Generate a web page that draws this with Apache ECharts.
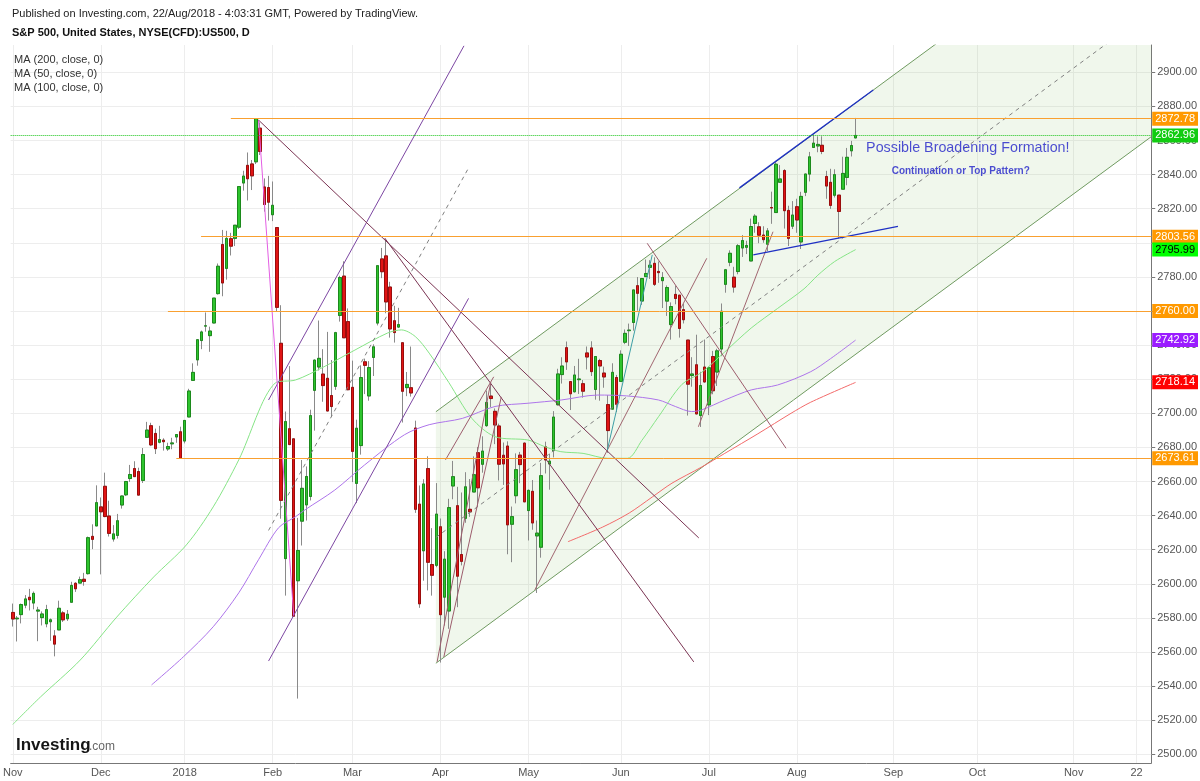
<!DOCTYPE html>
<html><head><meta charset="utf-8">
<script src="https://cdn.jsdelivr.net/npm/echarts@6/dist/echarts.min.js"></script>
<style>html,body{margin:0;padding:0;background:#fff}#c{width:1200px;height:781px}</style>
</head><body><div id="c"></div>
<script>
// ---------- DATA ----------
// daily bars: [date, open, high, low, close]
const ohlc = [
['2017-11-01',2583.21,2588.40,2574.92,2579.36],['2017-11-02',2579.46,2581.11,2566.17,2579.85],['2017-11-03',2581.93,2588.42,2576.77,2587.84],
['2017-11-06',2587.47,2593.38,2585.66,2591.13],['2017-11-07',2592.11,2597.02,2584.35,2590.64],['2017-11-08',2588.71,2595.47,2585.02,2594.38],
['2017-11-09',2584.00,2586.50,2566.33,2584.62],['2017-11-10',2580.18,2583.81,2575.57,2582.30],['2017-11-13',2576.53,2587.66,2574.48,2584.84],
['2017-11-14',2577.75,2579.66,2566.56,2578.87],['2017-11-15',2569.45,2572.84,2557.45,2564.62],['2017-11-16',2572.95,2590.09,2572.95,2585.64],
['2017-11-17',2582.94,2583.96,2577.62,2578.85],['2017-11-20',2579.49,2584.64,2578.24,2582.14],['2017-11-21',2589.17,2601.19,2589.17,2599.03],
['2017-11-22',2600.31,2600.94,2595.23,2597.08],['2017-11-24',2600.42,2604.21,2600.42,2602.42],['2017-11-27',2602.66,2606.41,2598.87,2601.42],
['2017-11-28',2605.95,2627.69,2605.44,2627.04],['2017-11-29',2627.82,2634.89,2620.32,2626.07],['2017-11-30',2633.93,2657.74,2633.93,2647.58],
['2017-12-01',2645.10,2650.62,2605.52,2642.22],['2017-12-04',2657.19,2665.19,2639.03,2639.44],['2017-12-05',2639.78,2648.72,2627.73,2629.57],
['2017-12-06',2626.24,2634.41,2624.75,2629.27],['2017-12-07',2628.38,2640.99,2626.53,2636.98],['2017-12-08',2646.21,2651.65,2644.10,2651.50],
['2017-12-11',2652.19,2660.33,2651.47,2659.99],['2017-12-12',2661.73,2669.72,2659.78,2664.11],['2017-12-13',2667.59,2671.88,2662.85,2662.85],
['2017-12-14',2665.87,2668.09,2652.01,2652.01],['2017-12-15',2660.63,2679.63,2659.14,2675.81],['2017-12-18',2685.92,2694.97,2685.92,2690.16],
['2017-12-19',2692.71,2694.44,2680.74,2681.47],['2017-12-20',2688.18,2691.01,2676.11,2679.25],['2017-12-21',2683.02,2692.64,2682.40,2684.57],
['2017-12-22',2684.22,2685.35,2678.13,2683.34],['2017-12-26',2679.09,2682.74,2677.96,2680.50],['2017-12-27',2682.10,2685.64,2678.91,2682.62],
['2017-12-28',2686.10,2687.66,2682.69,2687.54],['2017-12-29',2689.15,2692.12,2673.61,2673.61],
['2018-01-02',2683.73,2695.89,2682.36,2695.81],['2018-01-03',2697.85,2714.37,2697.77,2713.06],['2018-01-04',2719.31,2729.29,2719.07,2723.99],
['2018-01-05',2731.33,2743.45,2727.92,2743.15],['2018-01-08',2742.67,2748.51,2737.60,2747.71],['2018-01-09',2751.15,2759.14,2747.86,2751.29],
['2018-01-10',2745.55,2750.80,2736.06,2748.23],['2018-01-11',2752.97,2767.56,2752.78,2767.56],['2018-01-12',2770.18,2787.85,2769.64,2786.24],
['2018-01-16',2798.96,2807.54,2768.64,2776.42],['2018-01-17',2784.99,2807.04,2778.38,2802.56],['2018-01-18',2802.40,2805.83,2792.56,2798.03],
['2018-01-19',2802.60,2810.33,2798.08,2810.30],['2018-01-22',2809.16,2833.03,2808.12,2832.97],['2018-01-23',2835.05,2842.24,2830.59,2839.13],
['2018-01-24',2845.42,2852.97,2824.81,2837.54],['2018-01-25',2846.24,2848.56,2830.94,2839.25],['2018-01-26',2847.48,2872.87,2846.18,2872.87],
['2018-01-29',2867.23,2870.62,2851.48,2853.53],['2018-01-30',2832.74,2837.75,2818.27,2822.43],['2018-01-31',2832.41,2839.26,2813.04,2823.81],
['2018-02-01',2816.45,2835.96,2812.70,2821.98],['2018-02-02',2808.92,2808.92,2759.97,2762.13],['2018-02-05',2741.06,2763.39,2638.17,2648.94],
['2018-02-06',2614.78,2701.04,2593.07,2695.14],['2018-02-07',2690.95,2727.67,2681.33,2681.66],['2018-02-08',2685.01,2685.27,2580.56,2581.00],
['2018-02-09',2601.78,2638.67,2532.69,2619.55],['2018-02-12',2636.75,2672.61,2622.45,2656.00],['2018-02-13',2646.27,2668.84,2637.08,2662.94],
['2018-02-14',2651.21,2702.10,2648.87,2698.63],['2018-02-15',2713.46,2731.51,2689.82,2731.20],['2018-02-16',2727.14,2754.42,2725.11,2732.22],
['2018-02-20',2722.99,2737.60,2706.76,2716.26],['2018-02-21',2720.53,2747.75,2701.29,2701.33],['2018-02-22',2710.42,2731.26,2697.77,2703.96],
['2018-02-23',2715.80,2747.76,2713.74,2747.30],['2018-02-26',2757.37,2780.64,2753.78,2779.60],['2018-02-27',2780.45,2789.15,2744.22,2744.28],
['2018-02-28',2753.78,2761.52,2713.54,2713.83],
['2018-03-01',2715.22,2730.89,2659.65,2677.67],['2018-03-02',2658.89,2696.25,2647.32,2691.25],['2018-03-05',2681.06,2728.09,2675.75,2720.94],
['2018-03-06',2730.18,2732.08,2711.26,2728.12],['2018-03-07',2710.18,2730.60,2707.38,2726.80],['2018-03-08',2732.75,2740.45,2721.88,2738.97],
['2018-03-09',2752.91,2786.57,2751.54,2786.57],['2018-03-12',2790.54,2796.98,2779.26,2783.02],['2018-03-13',2792.31,2801.90,2758.68,2765.31],
['2018-03-14',2774.06,2777.11,2744.38,2749.48],['2018-03-15',2754.27,2763.03,2741.47,2747.33],['2018-03-16',2750.57,2761.85,2749.97,2752.01],
['2018-03-19',2741.38,2741.38,2694.59,2712.92],['2018-03-20',2715.05,2724.22,2710.05,2716.94],['2018-03-21',2714.99,2739.14,2709.79,2711.93],
['2018-03-22',2691.36,2695.68,2641.59,2643.69],['2018-03-23',2646.71,2657.67,2585.89,2588.26],['2018-03-26',2619.35,2661.36,2601.81,2658.55],
['2018-03-27',2667.57,2674.78,2596.12,2612.62],['2018-03-28',2611.30,2632.65,2593.06,2605.00],['2018-03-29',2610.84,2659.07,2609.72,2640.87],
['2018-04-02',2633.45,2638.30,2553.80,2581.88],['2018-04-03',2592.17,2619.14,2575.49,2614.45],['2018-04-04',2584.04,2649.86,2573.61,2644.69],
['2018-04-05',2657.36,2672.08,2649.58,2662.84],['2018-04-06',2645.82,2656.88,2586.27,2604.47],['2018-04-09',2617.18,2653.55,2610.79,2613.16],
['2018-04-10',2638.41,2665.45,2635.78,2656.87],['2018-04-11',2643.69,2661.43,2639.25,2642.19],['2018-04-12',2653.83,2674.72,2653.83,2663.99],
['2018-04-13',2676.90,2680.26,2645.05,2656.30],['2018-04-16',2670.10,2686.49,2665.16,2677.84],['2018-04-17',2692.74,2713.34,2692.05,2706.39],
['2018-04-18',2710.11,2717.49,2703.63,2708.64],['2018-04-19',2701.16,2702.84,2681.90,2693.13],['2018-04-20',2692.56,2693.94,2660.61,2670.14],
['2018-04-23',2675.40,2682.86,2657.99,2670.29],['2018-04-24',2680.80,2683.55,2617.32,2634.56],['2018-04-25',2634.92,2645.30,2612.67,2639.40],
['2018-04-26',2651.65,2676.48,2647.16,2666.94],['2018-04-27',2675.47,2677.35,2659.01,2669.91],['2018-04-30',2682.51,2682.87,2648.04,2648.05],
['2018-05-01',2642.96,2655.27,2625.41,2654.80],['2018-05-02',2654.24,2660.87,2631.70,2635.67],['2018-05-03',2628.08,2637.14,2594.62,2629.73],
['2018-05-04',2621.45,2670.93,2615.32,2663.42],['2018-05-07',2680.34,2683.35,2664.70,2672.63],['2018-05-08',2670.26,2676.34,2655.20,2671.92],
['2018-05-09',2678.12,2701.27,2674.14,2697.79],['2018-05-10',2705.02,2726.11,2704.54,2723.07],['2018-05-11',2722.70,2732.86,2717.45,2727.72],
['2018-05-14',2738.47,2742.10,2725.47,2730.13],['2018-05-15',2718.59,2718.59,2701.91,2711.45],['2018-05-16',2712.62,2727.76,2712.17,2722.46],
['2018-05-17',2719.71,2731.96,2711.36,2720.13],['2018-05-18',2717.35,2719.50,2709.18,2712.97],['2018-05-21',2735.39,2739.19,2725.70,2733.01],
['2018-05-22',2738.34,2742.24,2721.88,2724.44],['2018-05-23',2713.98,2733.33,2707.98,2733.29],['2018-05-24',2730.94,2731.97,2707.38,2727.76],
['2018-05-25',2723.60,2727.36,2714.99,2721.33],['2018-05-29',2705.11,2710.67,2676.81,2689.86],['2018-05-30',2702.43,2729.34,2702.43,2724.01],
['2018-05-31',2720.98,2722.50,2700.68,2705.27],
['2018-06-01',2718.70,2736.93,2718.70,2734.62],['2018-06-04',2741.67,2749.16,2740.54,2746.87],['2018-06-05',2748.46,2752.61,2739.51,2748.80],
['2018-06-06',2753.25,2772.39,2748.46,2772.35],['2018-06-07',2774.84,2779.90,2760.16,2770.37],['2018-06-08',2765.84,2779.39,2763.59,2779.03],
['2018-06-11',2780.18,2790.21,2780.17,2782.00],['2018-06-12',2785.60,2789.80,2778.78,2786.85],['2018-06-13',2787.94,2791.47,2774.65,2775.63],
['2018-06-14',2783.21,2789.06,2776.52,2782.49],['2018-06-15',2777.78,2782.81,2761.73,2779.66],['2018-06-18',2765.79,2774.99,2757.12,2773.75],
['2018-06-19',2752.01,2765.05,2743.19,2762.59],['2018-06-20',2769.73,2774.86,2763.91,2767.32],['2018-06-21',2769.28,2769.28,2744.39,2749.76],
['2018-06-22',2760.79,2764.17,2752.68,2754.88],['2018-06-25',2742.94,2742.94,2698.67,2717.07],['2018-06-26',2722.12,2732.91,2715.60,2723.06],
['2018-06-27',2728.45,2746.09,2699.38,2699.63],['2018-06-28',2698.69,2724.34,2691.99,2716.31],['2018-06-29',2727.13,2743.26,2718.03,2718.37],
['2018-07-02',2704.95,2727.26,2698.95,2726.71],['2018-07-03',2733.27,2736.58,2711.16,2713.22],['2018-07-05',2724.19,2737.83,2716.02,2736.61],
['2018-07-06',2737.68,2764.41,2733.52,2759.82],['2018-07-09',2775.62,2784.65,2770.73,2784.17],['2018-07-10',2788.56,2795.58,2786.24,2793.84],
['2018-07-11',2779.82,2785.91,2770.77,2774.02],['2018-07-12',2783.14,2799.22,2781.53,2798.29],['2018-07-13',2796.93,2804.53,2791.69,2801.31],
['2018-07-16',2797.36,2801.19,2793.39,2798.43],['2018-07-17',2789.34,2814.19,2789.24,2809.55],['2018-07-18',2811.35,2816.76,2805.89,2815.62],
['2018-07-19',2809.37,2812.05,2799.77,2804.49],['2018-07-20',2804.55,2809.70,2800.01,2801.83],['2018-07-23',2799.17,2808.61,2795.14,2806.98],
['2018-07-24',2820.68,2829.99,2811.12,2820.40],['2018-07-25',2817.73,2848.03,2817.73,2846.07],['2018-07-26',2835.49,2845.57,2835.26,2837.44],
['2018-07-27',2842.35,2843.17,2808.34,2818.82],['2018-07-30',2819.00,2821.74,2798.11,2802.60],['2018-07-31',2809.73,2824.46,2808.06,2816.29],
['2018-08-01',2821.17,2825.83,2805.85,2813.36],['2018-08-02',2800.48,2829.91,2796.34,2827.22],['2018-08-03',2829.62,2840.38,2827.37,2840.35],
['2018-08-06',2840.29,2853.29,2835.98,2850.40],['2018-08-07',2855.92,2863.43,2855.92,2858.45],['2018-08-08',2856.79,2862.44,2853.09,2857.70],
['2018-08-09',2857.19,2862.48,2851.98,2853.58],['2018-08-10',2838.90,2842.20,2825.81,2833.28],['2018-08-13',2835.46,2843.40,2819.88,2821.93],
['2018-08-14',2827.88,2843.11,2826.58,2839.96],['2018-08-15',2827.95,2827.95,2802.49,2818.37],['2018-08-16',2831.44,2850.49,2831.44,2840.69],
['2018-08-17',2838.32,2855.63,2833.73,2850.13],['2018-08-20',2853.93,2859.76,2850.62,2857.05],['2018-08-21',2861.51,2873.23,2861.32,2862.96]
];

// moving averages: [bar index, value]
const ma50 = [[0,2517.5],[6.6,2533.6],[16.1,2555.3],[24.8,2580.5],[33.6,2604],[41.4,2622.8],[47.8,2645.1],[53.9,2672.7],[62.6,2717.8],
 [67.4,2719.5],[74,2727],[81.6,2737.1],[89.4,2747.1],[92.7,2748.9],[96,2745],[99.3,2735.3],[104,2718],[109.5,2697],[115,2686.3],
 [122.9,2684.3],[126.9,2680.4],[130.7,2677.5],[136,2676.5],[141.8,2673.6],[146.6,2673.6],[150,2684],[154,2698],[159.6,2717],
 [164.3,2724],[169.8,2736],[176.1,2750],[182.4,2761.5],[188.7,2773],[192,2781],[196,2789],[201,2795.99]];
const ma100 = [[33.1,2540.7],[40.7,2557.2],[47.8,2574.8],[53.9,2594.7],[58.6,2614.1],[63.4,2632.9],[67.4,2639.3],[69.7,2643.4],
 [76.8,2655],[83.9,2669.7],[93.4,2687.4],[99.3,2693.3],[107.2,2697],[115,2704],[122.9,2705.9],[130.8,2707.8],[139.5,2710.7],
 [146.4,2710.2],[154,2707.8],[158,2704],[161.9,2701],[164.3,2702],[169.8,2707.8],[176.1,2713.7],[182.4,2716.6],[190.3,2724.4],
 [195,2732],[201,2742.92]];
const ma200 = [[132.4,2624.7],[140.7,2633.3],[147,2641.5],[152.5,2650.9],[157.2,2659],[164.3,2668.5],[169.8,2676.5],[177.7,2688],
 [185.6,2700],[190.3,2706.5],[201,2718.14]];

// x-axis tick labels
const tickDates = ['2017-11-01','2017-12-01','2018-01-02','2018-02-01','2018-03-01','2018-04-02','2018-05-01','2018-06-01',
 '2018-07-02','2018-08-01','2018-09-03','2018-10-01','2018-11-01','2018-11-22'];
const tickTexts = ['Nov','Dec','2018','Feb','Mar','Apr','May','Jun','Jul','Aug','Sep','Oct','Nov','22'];
// y-axis tick labels
const yTicks = [2500,2520,2540,2560,2580,2600,2620,2640,2660,2680,2700,2720,2740,2760,2780,2800,2820,2840,2860,2880,2900];

// horizontal price levels and the bar index where each starts
const levelValues = [2872.78, 2862.96, 2803.56, 2760.00, 2673.61];
const levelStarts = [52.0, -0.5, 44.9, 37.0, 39.0];
// last values of MA(50), MA(100), MA(200)
const maTagValues = [2795.99, 2742.92, 2718.14];

// drawn trend lines: [bar index, price] end points
const lnPink      = [[58.6,2872.0],[67.0,2581.5]];
const lnMaroonA   = [[58.6,2872.0],[163.6,2626.9]];
const lnMaroonB   = [[88.7,2802.8],[162.4,2554.2]];
const lnForkUp    = [[61.0,2707.8],[107.6,2915.5]];
const lnForkMid   = [[61.0,2631.3],[108.7,2843.9]];
const lnForkLow   = [[61.0,2554.7],[108.7,2767.4]];
const chLower     = [[100.9,2553.4],[271.5,2862.2]];
const chUpper     = [[100.9,2700.9],[271.5,3009.5]];
const chMid       = [[100.9,2627.2],[271.5,2936.0]];
const lnBlueUp    = [[173.3,2832.2],[205.2,2889.6]];
const lnBlueLow   = [[176.6,2792.9],[211.1,2809.6]];
const lnRose1     = [[101.2,2554.2],[114.0,2718.4]];
const lnRose2     = [[102.8,2557.1],[116.5,2709.6]];
const lnRose3     = [[103.2,2672.7],[114.7,2721.4]];
const lnRose4     = [[124.5,2596.4],[165.5,2790.9]];
const lnRose5     = [[151.3,2799.7],[184.4,2679.5]];
const lnRose6     = [[163.5,2692.1],[181.3,2806.5]];
const lnTeal      = [[141.8,2678.5],[152.5,2792.9]];

// annotation texts [bar index, price]
const noteTexts = ['Possible Broadening Formation!', 'Continuation or Top Pattern?'];
const notePos = [[203.5,2855.4],[209.6,2841.8]];

// ---------- BUILD ----------
const cats = ohlc.map(r => r[0]);
(function(){ let d = new Date(Date.UTC(2018,7,22));
  while (cats.length < 272) { const wd = d.getUTCDay(); if (wd > 0 && wd < 6) cats.push(d.toISOString().slice(0,10)); d.setUTCDate(d.getUTCDate()+1); } })();
const N = cats.length;
const tickMap = {}; tickDates.forEach((t,k) => tickMap[t] = tickTexts[k]);
const tickIdx = tickDates.map(t => cats.indexOf(t));
const isTick = (i, v) => tickMap[v] !== undefined;

const wickData = ohlc.map(r => [r[1], r[4], r[3], r[2]]);
const bodyData = ohlc.map(r => [r[1], r[4], Math.min(r[1],r[4]), Math.max(r[1],r[4])]);

const FONT = '"Liberation Sans", Arial, sans-serif';
const chart = echarts.init(document.getElementById('c'), null, {renderer: 'canvas'});

function seg(data, color, opts) {
  opts = opts || {};
  return { type: 'line', xAxisIndex: 1, yAxisIndex: 0, data: data, symbol: 'none', silent: true, z: opts.z || 5,
    clip: true, smooth: opts.smooth || false,
    lineStyle: { color: color, width: opts.width || 1, type: opts.type || 'solid' } };
}

// clip a polygon to a rectangle (Sutherland-Hodgman)
function clipPoly(pts, r) {
  const edges = [
    p => p[0] >= r.x, p => p[0] <= r.x + r.width, p => p[1] >= r.y, p => p[1] <= r.y + r.height ];
  const cross = [
    (a,b) => { const t = (r.x - a[0]) / (b[0] - a[0]); return [r.x, a[1] + t*(b[1]-a[1])]; },
    (a,b) => { const X = r.x + r.width; const t = (X - a[0]) / (b[0] - a[0]); return [X, a[1] + t*(b[1]-a[1])]; },
    (a,b) => { const t = (r.y - a[1]) / (b[1] - a[1]); return [a[0] + t*(b[0]-a[0]), r.y]; },
    (a,b) => { const Y = r.y + r.height; const t = (Y - a[1]) / (b[1] - a[1]); return [a[0] + t*(b[0]-a[0]), Y]; } ];
  let out = pts;
  for (let e = 0; e < 4; e++) {
    const inp = out; out = [];
    for (let k = 0; k < inp.length; k++) {
      const cur = inp[k], prev = inp[(k + inp.length - 1) % inp.length];
      const ci = edges[e](cur), pi = edges[e](prev);
      if (ci) { if (!pi) out.push(cross[e](prev, cur)); out.push(cur); }
      else if (pi) out.push(cross[e](prev, cur));
    }
  }
  return out;
}

const orange = '#f9a030';
const tagBg = ['#ff9900', '#11cc11', '#ff9900', '#ff9900', '#ff9900'];
const maTagBg = ['#00ff00', '#9b1cff', '#ff0000'];
const maTagFg = ['#000', '#fff', '#fff'];

const tagLabel = (txt, bg, fg) => ({ show: true, position: 'end', formatter: txt, backgroundColor: bg, color: fg,
  fontSize: 11, fontFamily: FONT, padding: [2,3,1,3], distance: 1, opacity: 1 });

const levelLines = levelValues.map((v,k) => [
  { coord: [levelStarts[k], v],
    lineStyle: k === 1 ? { color: '#19c419', type: 'dotted', width: 1 } : { color: orange, type: 'solid', width: 1 },
    label: tagLabel(v.toFixed(2), tagBg[k], '#fff') },
  { coord: [N - 0.5, v] }
]);
const maTags = maTagValues.map((v,k) => ({ yAxis: v, lineStyle: { color: 'rgba(255,255,255,0)', width: 1 },
  label: tagLabel(v.toFixed(2), maTagBg[k], maTagFg[k]) }));

const gridLines = yTicks.map(v => ({ yAxis: v })).concat(tickIdx.map(i => ({ xAxis: i })));

const option = {
  animation: false,
  textStyle: { fontFamily: FONT },
  grid: { left: 3, right: 47, top: 45, bottom: 18, containLabel: false },
  xAxis: [
    { type: 'category', data: cats, boundaryGap: true,
      axisLine: { lineStyle: { color: '#777' } },
      axisTick: { interval: isTick, alignWithLabel: true, length: 4, lineStyle: { color: '#777' } },
      axisLabel: { interval: isTick, formatter: v => tickMap[v] || '', color: '#555', fontSize: 11, margin: 4, alignMinLabel: 'center' },
      splitLine: { show: false } },
    { type: 'value', min: -0.5, max: N - 0.5, show: false }
  ],
  yAxis: [{ type: 'value', position: 'right', min: 2494.9, max: 2916, scale: true,
    axisLine: { show: true, onZero: false, lineStyle: { color: '#777', width: 1 } },
    axisTick: { show: true, length: 4, customValues: yTicks, lineStyle: { color: '#777' } },
    axisLabel: { customValues: yTicks, formatter: v => Number(v).toFixed(2), color: '#555', fontSize: 11, margin: 6 },
    splitLine: { show: false } }],
  series: [
    // grid lines
    { type: 'line', xAxisIndex: 1, data: [], silent: true,
      markLine: { z: 1, silent: true, symbol: ['none','none'], label: { show: false },
        lineStyle: { color: '#ededed', type: 'solid', width: 1 }, data: gridLines } },
    // channel fill
    { type: 'custom', xAxisIndex: 1, yAxisIndex: 0, silent: true, z: 2, data: [chLower[0]],
      renderItem: function (params, api) {
        const pts = [api.coord(chUpper[0]), api.coord(chUpper[1]), api.coord(chLower[1]), api.coord(chLower[0])];
        return { type: 'polygon', shape: { points: clipPoly(pts, params.coordSys) }, style: { fill: 'rgba(140,190,110,0.13)' } };
      } },
    seg(chLower, '#6f9a60', { z: 2 }),
    seg(chUpper, '#6f9a60', { z: 2 }),
    // candles
    { type: 'candlestick', xAxisIndex: 0, data: wickData, barWidth: 3, z: 3, silent: true,
      itemStyle: { color: '#2ec42e', color0: '#e01414', borderColor: '#8a8a8a', borderColor0: '#8a8a8a', borderWidth: 1 } },
    { type: 'candlestick', xAxisIndex: 0, data: bodyData, barWidth: 3, z: 3, silent: true,
      itemStyle: { color: '#2ec42e', color0: '#e01414', borderColor: '#1c8a1c', borderColor0: '#9a0d0d', borderWidth: 1 } },
    // moving averages
    seg(ma200, '#f26a6a', { z: 4, smooth: 0.3 }),
    seg(ma50, '#86e486', { z: 4, smooth: 0.3 }),
    seg(ma100, '#ad74ea', { z: 4, smooth: 0.3 }),
    // drawings
    seg(chMid, '#808080', { type: [4,4] }),
    seg(lnForkUp, '#7c46a2'), seg(lnForkLow, '#7c46a2'), seg(lnForkMid, '#808080', { type: [4,4] }),
    seg(lnPink, '#e35de3'),
    seg(lnMaroonA, '#7a3352'), seg(lnMaroonB, '#7a3352'),
    seg(lnRose1, '#9c5c6c'), seg(lnRose2, '#9c5c6c'), seg(lnRose3, '#9c5c6c'),
    seg(lnRose4, '#a0656f'), seg(lnRose5, '#9c5c6c'), seg(lnRose6, '#a0656f'),
    seg(lnTeal, '#3c9ea5'),
    seg(lnBlueUp, '#1f30c4', { width: 1.3 }), seg(lnBlueLow, '#1f30c4', { width: 1.3 }),
    // price levels + tags
    { type: 'line', xAxisIndex: 1, data: [], silent: true,
      markLine: { z: 6, silent: true, symbol: ['none','none'], data: levelLines.concat(maTags) } },
    // annotations
    { type: 'scatter', xAxisIndex: 1, symbolSize: 0, silent: true, z: 7,
      data: notePos.map((p,k) => ({ value: p, label: { show: true, position: 'right', distance: 0, formatter: noteTexts[k],
        color: '#1f1fc8', fontSize: k === 0 ? 14.3 : 10, fontWeight: k === 0 ? 'normal' : 'bold', fontFamily: FONT } })) }
  ],
  graphic: [
    { type: 'text', z: 100, x: 12, y: 14, style: { text: 'Published on Investing.com, 22/Aug/2018 - 4:03:31 GMT, Powered by TradingView.', font: '11px ' + FONT, fill: '#222', verticalAlign: 'middle' } },
    { type: 'text', z: 100, x: 12, y: 33, style: { text: 'S&P 500, United States, NYSE(CFD):US500, D', font: 'bold 11px ' + FONT, fill: '#111', verticalAlign: 'middle' } },
    { type: 'text', z: 100, x: 14, y: 59.5, style: { text: 'MA (200, close, 0)', font: '11px ' + FONT, fill: '#333', verticalAlign: 'middle' } },
    { type: 'text', z: 100, x: 14, y: 73.5, style: { text: 'MA (50, close, 0)', font: '11px ' + FONT, fill: '#333', verticalAlign: 'middle' } },
    { type: 'text', z: 100, x: 14, y: 87.5, style: { text: 'MA (100, close, 0)', font: '11px ' + FONT, fill: '#333', verticalAlign: 'middle' } },
    { type: 'text', z: 100, x: 16, y: 754, style: { text: 'Investing', font: 'bold 17px ' + FONT, fill: '#151515', verticalAlign: 'bottom' } },
    { type: 'text', z: 100, x: 89, y: 753, style: { text: '.com', font: '12px ' + FONT, fill: '#666', verticalAlign: 'bottom' } }
  ]
};
chart.setOption(option);
</script></body></html>
